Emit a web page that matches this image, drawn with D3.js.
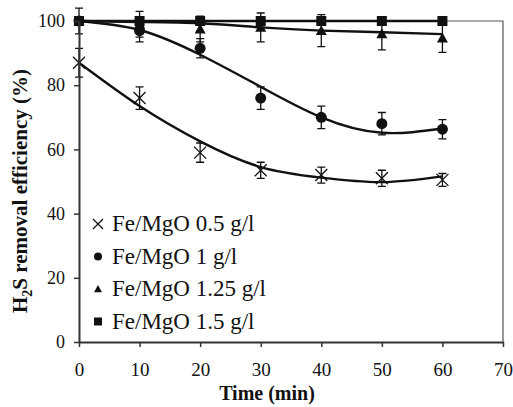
<!DOCTYPE html>
<html><head><meta charset="utf-8">
<script src="https://cdn.jsdelivr.net/npm/d3@7"></script>
<style>body{margin:0;background:#fff}svg{display:block}text{font-family:"Liberation Serif","Times New Roman",Times,serif}</style>
</head><body>
<svg id="c" width="513" height="407"></svg>
<script>
const time = [0, 10, 20, 30, 40, 50, 60];
const eff05 = [87, 76, 59, 53.5, 52, 51, 50.5];
const err05 = [4.5, 3.5, 3, 2.5, 2.5, 2.5, 2];
const fit05 = [87, 73.5, 62.5, 54.5, 51.2, 49.8, 51.6];
const eff1 = [100, 97, 91.5, 76, 70, 68, 66.3];
const err1 = [0, 3.5, 3, 3.5, 3.5, 3.5, 3];
const fit1 = [100, 97.2, 89.5, 79.5, 70, 65.2, 66.5];
const eff125 = [100, 99, 97.5, 98, 97, 96, 94.7];
const err125 = [4, 4, 4, 4.5, 5, 5, 4.5];
const fit125 = [100, 99.7, 99.3, 98, 97, 96.5, 95.9];
const eff15 = [100, 100, 100, 100, 100, 100, 100];
const err15 = [1, 1, 1, 1, 1, 1, 1];
const fit15 = [100, 100, 100, 100, 100, 100, 100];
const labels = ["Fe/MgO 0.5 g/l", "Fe/MgO 1 g/l", "Fe/MgO 1.25 g/l", "Fe/MgO 1.5 g/l"];
const xTicks = [0, 10, 20, 30, 40, 50, 60, 70];
const yTicks = [0, 20, 40, 60, 80, 100];

const font = "Liberation Serif";
const svg = d3.select("#c");
const x = d3.scaleLinear().domain([0, 70]).range([79, 503]);
const y = d3.scaleLinear().domain([0, 100]).range([342, 21]);

// frame (top/right)
svg.append("path").attr("d", `M${x(0)},${y(100)}H${x(70)}V${y(0)}`)
  .attr("fill", "none").attr("stroke", "#555").attr("stroke-width", 1.2);

const series = [
  {v: eff05, e: err05, f: fit05, sym: "x"},
  {v: eff1, e: err1, f: fit1, sym: "circle"},
  {v: eff125, e: err125, f: fit125, sym: "tri"},
  {v: eff15, e: err15, f: fit15, sym: "sq"}
];

const line = d3.line().x((d, i) => x(time[i])).y(d => y(d)).curve(d3.curveNatural);

function drawSym(g, sym, cx, cy, s) {
  if (sym === "x") {
    g.append("path").attr("d", `M${cx-s},${cy-s}L${cx+s},${cy+s}M${cx-s},${cy+s}L${cx+s},${cy-s}`)
      .attr("stroke", "#111").attr("stroke-width", 1.3).attr("fill", "none");
  } else if (sym === "circle") {
    g.append("circle").attr("cx", cx).attr("cy", cy).attr("r", s).attr("fill", "#111");
  } else if (sym === "tri") {
    g.append("path").attr("d", `M${cx},${cy-s}L${cx+s},${cy+s*0.8}L${cx-s},${cy+s*0.8}Z`).attr("fill", "#111");
  } else {
    g.append("rect").attr("x", cx - s).attr("y", cy - s).attr("width", 2*s).attr("height", 2*s).attr("fill", "#111");
  }
}

series.forEach(s => {
  const g = svg.append("g");
  s.v.forEach((v, i) => {
    if (!s.e[i]) return;
    const cx = x(time[i]);
    const y1 = y(v + s.e[i]), y2 = y(v - s.e[i]);
    g.append("path").attr("d", `M${cx},${y1}V${y2}M${cx-4},${y1}H${cx+4}M${cx-4},${y2}H${cx+4}`)
      .attr("stroke", "#111").attr("stroke-width", 1.3).attr("fill", "none");
  });
  g.append("path").datum(s.f).attr("d", line).attr("fill", "none")
    .attr("stroke", "#111").attr("stroke-width", 2.4);
  s.v.forEach((v, i) => {
    const sz = s.sym === "x" ? 6 : s.sym === "circle" ? 5.5 : s.sym === "tri" ? 5.5 : 5;
    drawSym(g, s.sym, x(time[i]), y(v), sz);
  });
});

// axes
const ax = svg.append("g").attr("transform", `translate(0,${y(0)})`)
  .call(d3.axisBottom(x).tickValues(xTicks).tickSize(5).tickSizeOuter(0));
const ay = svg.append("g").attr("transform", `translate(${x(0)},0)`)
  .call(d3.axisLeft(y).tickValues(yTicks).tickSize(5).tickSizeOuter(0));
[ax, ay].forEach(a => {
  a.attr("font-family", null);
  a.select(".domain").attr("stroke", "#333").attr("stroke-width", 2);
  a.selectAll(".tick line").attr("stroke", "#333").attr("stroke-width", 1.5);
  a.selectAll(".tick text").style("font-family", font).attr("fill", "#111");
});
ax.selectAll(".tick text").attr("font-size", 19).attr("dy", null).attr("y", 34);
ay.selectAll(".tick text").attr("font-size", 18).attr("x", -14);

// axis titles
svg.append("text").attr("x", 267).attr("y", 400).attr("text-anchor", "middle")
  .style("font-family", font).attr("font-weight", "bold").attr("font-size", 20).attr("fill", "#111")
  .text("Time (min)");
const yt = svg.append("text").attr("transform", "translate(27,191) rotate(-90)").attr("text-anchor", "middle")
  .style("font-family", font).attr("font-weight", "bold").attr("font-size", 21).attr("fill", "#111");
yt.append("tspan").text("H");
yt.append("tspan").attr("font-size", 14).attr("dy", 5).text("2");
yt.append("tspan").attr("dy", -5).text("S removal efficiency (%)");

// legend
const leg = svg.append("g");
labels.forEach((lab, i) => {
  const by = 231 + i * 32.5;
  drawSym(leg, series[i].sym, 98, by - 7, series[i].sym === "x" ? 5 : 4);
  leg.append("text").attr("x", 112).attr("y", by).style("font-family", font)
    .attr("font-size", 23).attr("fill", "#111").text(lab);
});
</script>
</body></html>
